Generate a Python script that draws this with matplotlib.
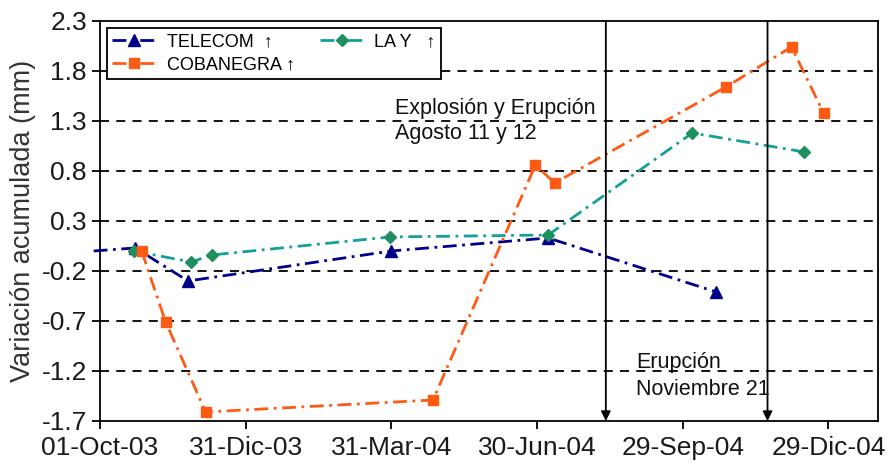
import numpy as np
import matplotlib.pyplot as plt

plt.rcParams['font.family'] = ['Liberation Sans', 'DejaVu Sans']

# Datos (fechas y variacion acumulada en mm)
telecom_fechas = np.array(['2003-09-27', '2003-10-23', '2003-11-25', '2004-03-31',
                           '2004-07-07', '2004-10-20'], dtype='datetime64[D]')
telecom_val = [0.00, 0.03, -0.30, 0.00, 0.13, -0.41]

lay_fechas = np.array(['2003-10-22', '2003-11-27', '2003-12-10', '2004-03-30',
                       '2004-07-07', '2004-10-05', '2004-12-14'], dtype='datetime64[D]')
lay_val = [0.00, -0.11, -0.04, 0.14, 0.16, 1.18, 0.99]

coba_fechas = np.array(['2003-10-27', '2003-11-11', '2003-12-06', '2004-04-26',
                        '2004-06-29', '2004-07-11', '2004-10-26', '2004-12-06',
                        '2004-12-26'], dtype='datetime64[D]')
coba_val = [0.00, -0.71, -1.61, -1.49, 0.86, 0.68, 1.64, 2.04, 1.38]

eventos = np.array(['2004-08-12', '2004-11-21'], dtype='datetime64[D]')

tick_fechas = np.array(['2003-10-01', '2003-12-31', '2004-03-31', '2004-06-30',
                        '2004-09-29', '2004-12-29'], dtype='datetime64[D]')
tick_etiquetas = ['01-Oct-03', '31-Dic-03', '31-Mar-04', '30-Jun-04', '29-Sep-04', '29-Dic-04']
y_ticks = [-1.7, -1.2, -0.7, -0.2, 0.3, 0.8, 1.3, 1.8, 2.3]

fig = plt.figure(figsize=(8.89, 4.66), dpi=100)
ax = fig.add_axes([0.1125, 0.0966, 0.8751, 0.8584])

estilo = (0, (5, 2, 1, 2))
# el primer punto de TELECOM queda fuera del eje y no lleva marcador
l1, = ax.plot(telecom_fechas.astype('O'), telecom_val, color='#00008b', lw=2, ls=estilo,
              marker='^', ms=8, mfc='#00008b', mec='#00008b', clip_on=False, zorder=4,
              markevery=list(range(1, len(telecom_val))), label='TELECOM  \u2191')
l3, = ax.plot(lay_fechas.astype('O'), lay_val, color='#14a09a', lw=2, ls=estilo,
              marker='D', ms=6.5, mfc='#1e9060', mec='#1e9060', zorder=4,
              label='LA Y   \u2191')
l2, = ax.plot(coba_fechas.astype('O'), coba_val, color='#ff5a14', lw=2, ls=estilo,
              marker='s', ms=6.5, mfc='#ff5a14', mec='#ff5a14', zorder=4,
              label='COBANEGRA \u2191')

ax.set_xlim(np.datetime64('2003-10-01').astype('O'), np.datetime64('2005-01-29').astype('O'))
ax.set_ylim(-1.7, 2.3)

# Lineas de eventos con flecha
for ev in eventos:
    d = ev.astype('O')
    ax.annotate('', xy=(d, -1.7), xytext=(d, 2.3),
                arrowprops=dict(arrowstyle='-|>', color='black', lw=1.3,
                                mutation_scale=14, shrinkA=0, shrinkB=0), zorder=5)

ax.text(np.datetime64('2004-04-02').astype('O'), 1.30, 'Explosión y Erupción\nAgosto 11 y 12',
        fontsize=15.5, ha='left', va='center', color='#111111', linespacing=1.25)
ax.text(np.datetime64('2004-08-31').astype('O'), -1.25, 'Erupción\nNoviembre 21',
        fontsize=15.5, ha='left', va='center', color='#111111', linespacing=1.4)

ax.set_xticks(tick_fechas.astype('O'))
ax.set_xticklabels(tick_etiquetas)
ax.set_yticks(y_ticks)
ax.set_yticklabels([f'{v:.1f}' for v in y_ticks])
ax.tick_params(axis='both', labelsize=19, colors='black', length=6, width=1.3,
               labelcolor='#1a1a1a')
ax.tick_params(axis='x', pad=5)

for v in y_ticks[1:-1]:
    ax.axhline(v, color='black', lw=1.3, ls=(0, (5, 4)), zorder=1)

for s in ax.spines.values():
    s.set_color('black')
    s.set_linewidth(1.3)

ax.set_ylabel('Variación acumulada (mm)', fontsize=19.5, color='#333333', labelpad=4)

leg = ax.legend(handles=[l1, l2, l3], ncol=2, loc='upper left',
                bbox_to_anchor=(0.009, 0.983), fontsize=13, frameon=True,
                fancybox=False, edgecolor='black', framealpha=1, borderpad=0.3,
                handlelength=2.4, columnspacing=1.4, handletextpad=0.6,
                labelspacing=0.35, borderaxespad=0)
leg.get_frame().set_linewidth(1.3)

fig.savefig('out.png', dpi=100)
